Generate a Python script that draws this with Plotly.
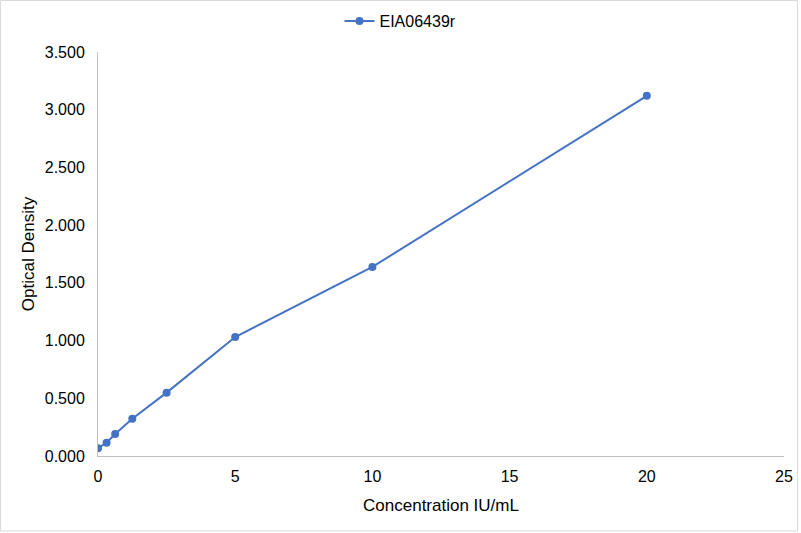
import plotly.graph_objects as go

conc = [0, 0.3125, 0.625, 1.25, 2.5, 5, 10, 20]
od = [0.067, 0.115, 0.190, 0.323, 0.549, 1.031, 1.638, 3.120]
x_ticks = [0, 5, 10, 15, 20, 25]
y_ticks = [0, 0.5, 1.0, 1.5, 2.0, 2.5, 3.0, 3.5]
y_labels = ["0.000", "0.500", "1.000", "1.500", "2.000", "2.500", "3.000", "3.500"]

W, H = 801, 533
L, R, T, B = 98, 17, 52, 77
pw, ph = W - L - R, H - T - B

fig = go.Figure()
fig.add_trace(go.Scatter(x=conc, y=od, mode="lines+markers", name="EIA06439r",
                         line=dict(color="#4472C4", width=2),
                         marker=dict(color="#4472C4", size=8)))

fig.update_layout(
    width=W, height=H,
    margin=dict(l=L, r=R, t=T, b=B),
    paper_bgcolor="white", plot_bgcolor="white",
    font=dict(family="Liberation Sans, Arial", size=16, color="#000000"),
    showlegend=True,
    legend=dict(orientation="h", x=0.5, xanchor="center", xref="container",
                y=1 - 21 / H, yanchor="middle", yref="container",
                font=dict(size=16, color="#000000")),
    xaxis=dict(range=[0, 25], tickvals=x_ticks, showgrid=False, automargin=False,
               showline=True, linecolor="#BFBFBF", linewidth=1, zeroline=False,
               ticks="", ticklabelstandoff=6,
               title=dict(text="Concentration IU/mL", font=dict(size=17), standoff=14)),
    yaxis=dict(range=[0, 3.5], tickvals=y_ticks, ticktext=y_labels, showgrid=False, automargin=False,
               showline=True, linecolor="#BFBFBF", linewidth=1, zeroline=False,
               ticks="", ticklabelstandoff=9,
               title=dict(text="Optical Density", font=dict(size=17), standoff=5)),
)
fig.add_shape(type="rect", xref="paper", yref="paper",
              x0=(0.5 - L) / pw, x1=(797.5 - L) / pw,
              y0=(T + ph - 531) / ph, y1=(T + ph - 0.5) / ph,
              line=dict(color="#D9D9D9", width=1))

fig.write_html("out.html", config={"displayModeBar": False},
               post_script="document.body.style.margin='0';document.body.style.padding='0';")
